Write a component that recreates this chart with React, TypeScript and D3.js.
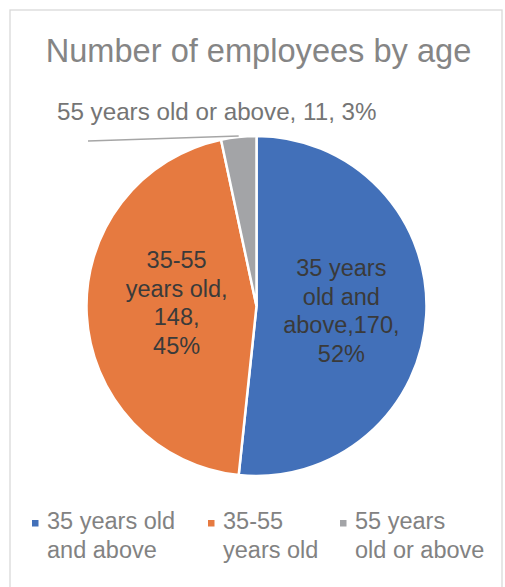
import React from "react";
import * as d3 from "d3";

const categories = ["35 years old and above", "35-55 years old", "55 years old or above"];
const values = [170, 148, 11];
const percents = ["52%", "45%", "3%"];
const colors = ["#4270B9", "#E67A40", "#A3A4A7"];
const sliceLabelLines = [
  ["35 years", "old and", "above,170,", "52%"],
  ["35-55", "years old,", "148,", "45%"],
];
const outsideLabel = "55 years old or above, 11, 3%";
const legendLines = [
  ["35 years old", "and above"],
  ["35-55", "years old"],
  ["55 years", "old or above"],
];
const title = "Number of employees by age";

const W = 505;
const H = 587;
const FONT = "'Liberation Sans', Arial, Helvetica, sans-serif";

export default function App() {
  const cx = 256.5;
  const cy = 306;
  const r = 170;
  const data = values.map((v, i) => ({ v, i }));
  const pie = d3.pie<{ v: number; i: number }>().sort(null).value((d) => d.v).startAngle(0).endAngle(2 * Math.PI);
  const arcs = pie(data);
  const arc = d3.arc<d3.PieArcDatum<{ v: number; i: number }>>().innerRadius(0).outerRadius(r);
  const labelArc = d3.arc<d3.PieArcDatum<{ v: number; i: number }>>().innerRadius(r * 0.5).outerRadius(r * 0.5);
  const lineH = 28.7;
  const fs = 23.5;
  const labelShift = [
    [0, 0],
    [5, -8],
  ];

  const g = arcs[2];
  const mid = (g.startAngle + g.endAngle) / 2;
  const edge = [Math.sin(mid) * r, -Math.cos(mid) * r];

  const legendX = [32, 208, 340];

  return (
    <svg width={W} height={H} style={{ position: "absolute", left: 0, top: 0, background: "#fff" }}>
      <rect x={10} y={10} width={492} height={600} fill="#fff" stroke="#d9d9d9" strokeWidth={1.3} />
      <text x={258.5} y={62} textAnchor="middle" fontFamily={FONT} fontSize={32.6} fill="#858585">
        {title}
      </text>
      <g transform={`translate(${cx},${cy})`}>
        {arcs.map((a, i) => (
          <path key={i} d={arc(a) || ""} fill={colors[i]} stroke="#fff" strokeWidth={2.5} />
        ))}
        {sliceLabelLines.map((lines, i) => {
          const [x0, y] = labelArc.centroid(arcs[i]);
          const x = x0 + labelShift[i][0];
          const y0 = y + labelShift[i][1] - ((lines.length - 1) * lineH) / 2 + fs * 0.36;
          return (
            <text key={i} textAnchor="middle" fontFamily={FONT} fontSize={fs} fill="#3a3a3a">
              {lines.map((l, j) => (
                <tspan key={j} x={x} y={y0 + j * lineH}>
                  {l}
                </tspan>
              ))}
            </text>
          );
        })}
        <polyline
          points={`${edge[0]},${edge[1] - 1} ${88 - cx},${141 - cy}`}
          fill="none"
          stroke="#a6a6a6"
          strokeWidth={1.5}
        />
      </g>
      <text x={57} y={120} fontFamily={FONT} fontSize={24.2} fill="#757575">
        {outsideLabel}
      </text>
      {categories.map((c, i) => (
        <g key={c}>
          <rect x={legendX[i]} y={520} width={6.5} height={6.5} fill={colors[i]} />
          <text fontFamily={FONT} fontSize={fs} fill="#828282">
            {legendLines[i].map((l, j) => (
              <tspan key={j} x={legendX[i] + 15} y={529 + j * 29}>
                {l}
              </tspan>
            ))}
          </text>
        </g>
      ))}
    </svg>
  );
}
